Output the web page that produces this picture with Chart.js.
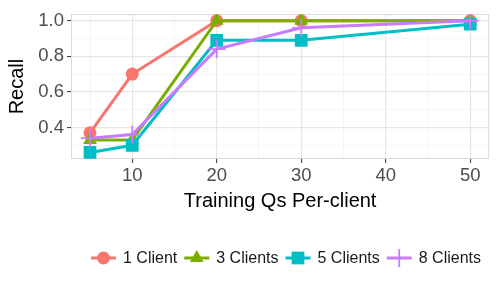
<!DOCTYPE html>
<html>
<head>
<meta charset="utf-8">
<script src="https://cdn.jsdelivr.net/npm/chart.js@4"></script>
<style>
  body { margin: 0; background: #fff; }
  canvas { display: block; }
</style>
</head>
<body>
<canvas id="chart1" width="500" height="294"></canvas>
<script>
// data
const trainingQs = [5, 10, 20, 30, 50];
const seriesNames = ['1 Client', '3 Clients', '5 Clients', '8 Clients'];
const oneClient = [0.37, 0.70, 1.0, 1.0, 1.0];
const threeClients = [0.33, 0.33, 1.0, 1.0, 1.0];
const fiveClients = [0.26, 0.30, 0.89, 0.89, 0.98];
const eightClients = [0.34, 0.36, 0.84, 0.96, 1.0];
const yTicks = [0.4, 0.6, 0.8, 1.0];
const xTicks = [10, 20, 30, 40, 50];

const colors = ['#F8766D', '#7CAE00', '#00BFC4', '#C77CFF'];
const shapes = ['circle', 'triangle', 'rect', 'cross'];
const radii = [6.5, 8, 9, 9];
const FONT = '"Liberation Sans", Arial, sans-serif';

function toPoints(vals) {
    return vals.map((v, i) => ({ x: trainingQs[i], y: v }));
}

const allValues = [oneClient, threeClients, fiveClients, eightClients];
const datasets = allValues.map((vals, i) => ({
    label: seriesNames[i],
    data: toPoints(vals),
    borderColor: colors[i],
    backgroundColor: colors[i],
    borderWidth: 3,
    pointStyle: shapes[i],
    pointRadius: radii[i],
    pointBorderWidth: shapes[i] === 'cross' ? 1.8 : 0,
    pointBorderColor: colors[i],
    order: 4 - i
}));

// ggplot-like range expansion (5%)
const xMin = 5, xMax = 50;
const yLo = 0.26, yHi = 1.0;
const xPad = (xMax - xMin) * 0.05;
const yPad = (yHi - yLo) * 0.05;

function isMajor(list, v) {
    return list.some(t => Math.abs(t - v) < 1e-6);
}

// panel border + legend drawn by hand (ggplot style)
const ggExtras = {
    id: 'ggExtras',
    beforeDatasetsDraw(chart) {
        const { ctx, chartArea: a } = chart;
        ctx.save();
        ctx.strokeStyle = '#DADADA';
        ctx.lineWidth = 1;
        ctx.strokeRect(a.left + 0.5, a.top + 0.5, a.right - a.left - 1, a.bottom - a.top - 1);
        ctx.restore();
    },
    afterDraw(chart) {
        const ctx = chart.ctx;
        ctx.save();
        ctx.font = '16px ' + FONT;
        ctx.textBaseline = 'middle';
        let x = 91;
        const y = 258;
        seriesNames.forEach((name, i) => {
            ctx.strokeStyle = colors[i];
            ctx.fillStyle = colors[i];
            ctx.lineWidth = 3;
            ctx.beginPath();
            ctx.moveTo(x, y);
            ctx.lineTo(x + 25, y);
            ctx.stroke();
            ctx.lineWidth = shapes[i] === 'cross' ? 1.8 : 0;
            Chart.helpers.drawPoint(ctx, {
                pointStyle: shapes[i],
                radius: radii[i],
                rotation: 0,
                borderWidth: shapes[i] === 'cross' ? 1.8 : 0
            }, x + 12.5, y);
            ctx.fillStyle = '#1a1a1a';
            ctx.fillText(name, x + 32, y + 1);
            x += 32 + ctx.measureText(name).width + 7;
        });
        ctx.restore();
    }
};

const ctx1 = document.getElementById('chart1').getContext('2d');
const chart1 = new Chart(ctx1, {
    type: 'line',
    data: { datasets: datasets },
    options: {
        responsive: false,
        animation: false,
        layout: { padding: { top: 10, right: 9, left: 0, bottom: 77 } },
        plugins: { legend: { display: false }, tooltip: { enabled: false } },
        scales: {
            x: {
                type: 'linear',
                min: xMin - xPad,
                max: xMax + xPad,
                afterFit(scale) { scale.height = 58; },
                ticks: {
                    stepSize: 5,
                    includeBounds: false,
                    autoSkip: false,
                    maxRotation: 0,
                    padding: 2,
                    color: '#4D4D4D',
                    font: { family: FONT, size: 18.5 },
                    callback: v => isMajor(xTicks, v) ? String(v) : ''
                },
                grid: {
                    drawTicks: true,
                    tickLength: 4,
                    color: c => isMajor(xTicks, c.tick.value) ? '#E6E6E6' : '#F2F2F2',
                    lineWidth: c => isMajor(xTicks, c.tick.value) ? 1.2 : 0.8,
                    tickColor: c => isMajor(xTicks, c.tick.value) ? '#333333' : 'rgba(0,0,0,0)',
                    tickWidth: 1
                },
                border: { display: false },
                title: {
                    display: true,
                    text: 'Training Qs Per-client',
                    color: '#000',
                    font: { family: FONT, size: 20 },
                    padding: { top: 4, bottom: 4 }
                }
            },
            y: {
                type: 'linear',
                min: yLo - yPad,
                max: yHi + yPad,
                afterFit(scale) { scale.width = 71; },
                ticks: {
                    stepSize: 0.1,
                    includeBounds: false,
                    autoSkip: false,
                    padding: 3,
                    color: '#4D4D4D',
                    font: { family: FONT, size: 18.5 },
                    callback: v => isMajor(yTicks, v) ? v.toFixed(1) : ''
                },
                grid: {
                    drawTicks: true,
                    tickLength: 4,
                    color: c => isMajor(yTicks, c.tick.value) ? '#E6E6E6' : '#F2F2F2',
                    lineWidth: c => isMajor(yTicks, c.tick.value) ? 1.2 : 0.8,
                    tickColor: c => isMajor(yTicks, c.tick.value) ? '#333333' : 'rgba(0,0,0,0)',
                    tickWidth: 1
                },
                border: { display: false },
                title: {
                    display: true,
                    text: 'Recall',
                    color: '#000',
                    font: { family: FONT, size: 20 },
                    padding: { top: 5, bottom: 0 }
                }
            }
        }
    },
    plugins: [ggExtras]
});
</script>
</body>
</html>
